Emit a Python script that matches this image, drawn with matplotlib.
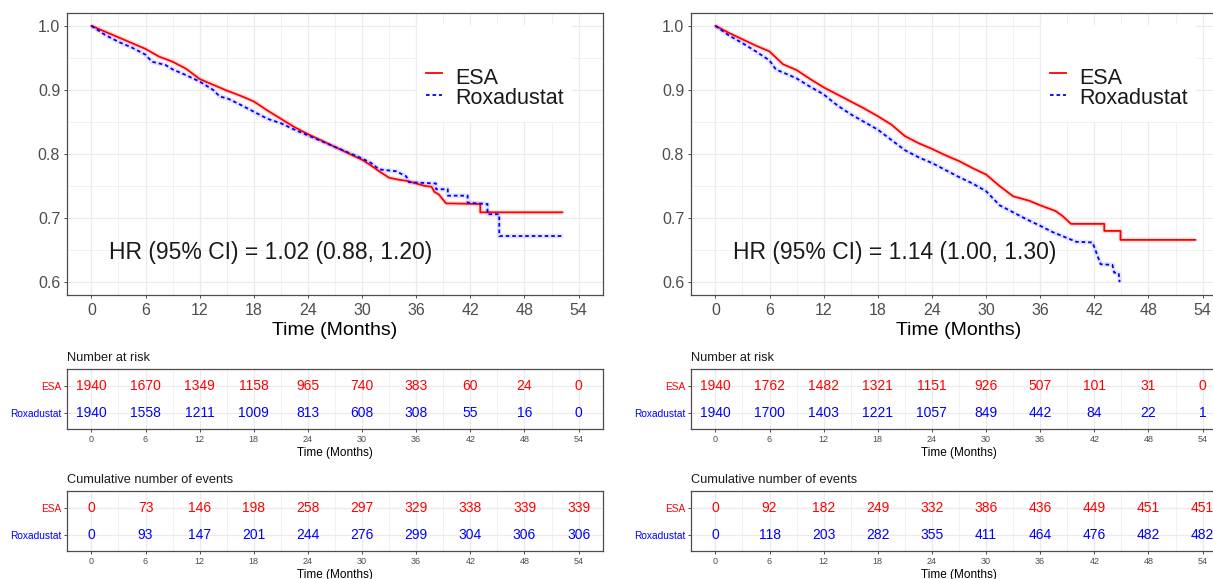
import matplotlib
matplotlib.use("Agg")
import matplotlib.pyplot as plt
from matplotlib.lines import Line2D
from matplotlib.patches import Rectangle
from matplotlib.ticker import MultipleLocator, FixedLocator, FormatStrFormatter

plt.rcParams["font.family"] = ["Liberation Sans", "DejaVu Sans"]

# ---------------- data ----------------
groups = ["ESA", "Roxadustat"]
time_breaks = [0, 6, 12, 18, 24, 30, 36, 42, 48, 54]

# Panel A: Kaplan-Meier estimates (months, survival probability)
a_esa_t = [0, 1.5, 3, 4.5, 6, 7.5, 9, 10.5, 12, 13.5, 15, 16.5, 18, 19.5, 21,
           22.5, 24, 25.5, 27, 28.5, 30, 31, 32, 33, 34, 35, 36, 37, 37.7, 38.0,
           38.5, 39.3, 43.1, 43.1, 52.2]
a_esa_s = [1.0, 0.991, 0.982, 0.973, 0.964, 0.952, 0.944, 0.933, 0.917, 0.908,
           0.899, 0.891, 0.882, 0.868, 0.855, 0.842, 0.831, 0.821, 0.811, 0.801,
           0.791, 0.782, 0.772, 0.763, 0.760, 0.758, 0.754, 0.750, 0.749, 0.741,
           0.737, 0.723, 0.722, 0.709, 0.709]
a_rox_t = [0, 1.5, 3, 4.5, 6, 6.7, 8.2, 9, 10.5, 12, 13.5, 14.2, 15.2, 16.5, 18,
           19.5, 21, 22.5, 24, 25.5, 27, 28.5, 30, 31, 31.9, 33.8, 34.9, 35.2,
           38.2, 38.2, 39.5, 39.5, 41.7, 41.7, 43.9, 43.9, 45.2, 45.2, 52.3]
a_rox_s = [1.0, 0.986, 0.975, 0.966, 0.955, 0.944, 0.939, 0.932, 0.923, 0.913,
           0.900, 0.890, 0.886, 0.877, 0.866, 0.855, 0.848, 0.838, 0.829, 0.820,
           0.811, 0.802, 0.793, 0.786, 0.776, 0.773, 0.765, 0.756, 0.754, 0.745,
           0.745, 0.735, 0.735, 0.724, 0.722, 0.706, 0.706, 0.672, 0.672]

# Panel B
b_esa_t = [0, 1.5, 3, 4.5, 6, 7.5, 9, 10.5, 12, 13.5, 15, 16.5, 18, 19.5, 21,
           22.5, 24, 25.5, 27, 28.5, 30, 31.5, 33, 34.8, 36, 37.7, 38.5, 39.4,
           43.1, 43.1, 44.9, 44.9, 53.2]
b_esa_s = [1.0, 0.989, 0.979, 0.969, 0.960, 0.940, 0.931, 0.917, 0.904, 0.893,
           0.882, 0.871, 0.859, 0.846, 0.828, 0.817, 0.808, 0.798, 0.789, 0.778,
           0.768, 0.750, 0.734, 0.727, 0.720, 0.711, 0.703, 0.691, 0.691, 0.680,
           0.680, 0.666, 0.666]
b_rox_t = [0, 1.5, 3, 4.5, 6, 6.7, 9, 10.5, 12, 13.5, 15, 16.5, 18, 19.5, 21,
           22.5, 24, 25.5, 27, 28.5, 30, 31.5, 33, 34.5, 36, 37.4, 38.8, 40,
           41.8, 42.7, 44.0, 44.2, 44.7, 44.8]
b_rox_s = [1.0, 0.985, 0.973, 0.960, 0.946, 0.932, 0.918, 0.905, 0.893, 0.876,
           0.862, 0.850, 0.838, 0.822, 0.806, 0.795, 0.786, 0.775, 0.764, 0.754,
           0.742, 0.720, 0.709, 0.698, 0.688, 0.678, 0.670, 0.663, 0.662, 0.628,
           0.627, 0.615, 0.614, 0.600]

a_hr_text = "HR (95% CI) = 1.02 (0.88, 1.20)"
b_hr_text = "HR (95% CI) = 1.14 (1.00, 1.30)"

# Number at risk / cumulative events at time_breaks
a_risk_esa = [1940, 1670, 1349, 1158, 965, 740, 383, 60, 24, 0]
a_risk_rox = [1940, 1558, 1211, 1009, 813, 608, 308, 55, 16, 0]
a_evt_esa = [0, 73, 146, 198, 258, 297, 329, 338, 339, 339]
a_evt_rox = [0, 93, 147, 201, 244, 276, 299, 304, 306, 306]

b_risk_esa = [1940, 1762, 1482, 1321, 1151, 926, 507, 101, 31, 0]
b_risk_rox = [1940, 1700, 1403, 1221, 1057, 849, 442, 84, 22, 1]
b_evt_esa = [0, 92, 182, 249, 332, 386, 436, 449, 451, 451]
b_evt_rox = [0, 118, 203, 282, 355, 411, 464, 476, 482, 482]

# ---------------- styling ----------------
RED = "#FF0000"
BLUE = "#0000FF"
GRID = "#EBEBEB"
BORDER = "#4D4D4D"
TICKTXT = "#4D4D4D"
XLIM = (-2.7, 56.7)

W, H = 1213, 579
fig = plt.figure(figsize=(W / 100, H / 100), dpi=100)


def px_axes(l, t, r, b):
    return fig.add_axes([l / W, 1 - b / H, (r - l) / W, (b - t) / H])


def style_frame(ax):
    for sp in ax.spines.values():
        sp.set_color(BORDER)
        sp.set_linewidth(0.9)
    ax.set_axisbelow(True)
    ax.grid(which="major", color=GRID, linewidth=0.9)
    ax.grid(which="minor", color=GRID, linewidth=0.5)
    ax.tick_params(which="minor", length=0)


def survival_panel(ax, esa_t, esa_s, rox_t, rox_s, hr_text):
    style_frame(ax)
    # light halo from the dense censoring marks
    ax.plot(esa_t, esa_s, color=RED, lw=3.5, alpha=0.12, solid_capstyle="butt")
    ax.plot(rox_t, rox_s, color=BLUE, lw=3.5, alpha=0.10, solid_capstyle="butt")
    ax.plot(esa_t, esa_s, color=RED, lw=1.3)
    ax.plot(rox_t, rox_s, color=BLUE, lw=1.3, dashes=(2.0, 1.6))
    ax.set_xlim(*XLIM)
    ax.set_ylim(0.58, 1.02)
    ax.xaxis.set_major_locator(FixedLocator(time_breaks))
    ax.xaxis.set_minor_locator(MultipleLocator(3))
    ax.yaxis.set_major_locator(MultipleLocator(0.1))
    ax.yaxis.set_minor_locator(MultipleLocator(0.05))
    ax.yaxis.set_major_formatter(FormatStrFormatter("%.1f"))
    ax.tick_params(which="major", length=2.4, width=0.7, color=BORDER,
                   labelsize=11.5, labelcolor=TICKTXT, pad=2.5)
    ax.tick_params(axis="x", which="major", pad=3.5)
    ax.set_xlabel("Time (Months)", fontsize=14, labelpad=2.5)
    ax.text(2.0, 0.636, hr_text, fontsize=16.5, ha="left", va="baseline",
            color="#1A1A1A")
    # legend
    ax.add_patch(Rectangle((0.653, 0.613), 0.289, 0.344, transform=ax.transAxes,
                           facecolor="white", edgecolor="none", zorder=3))
    ax.add_line(Line2D([0.670, 0.700], [0.786, 0.786], transform=ax.transAxes,
                       color=RED, lw=1.3, zorder=4))
    ax.add_line(Line2D([0.670, 0.700], [0.709, 0.709], transform=ax.transAxes,
                       color=BLUE, lw=1.3, dashes=(2.0, 1.6), zorder=4))
    ax.text(0.724, 0.748, groups[0], transform=ax.transAxes, fontsize=15.5,
            va="baseline", ha="left", zorder=4, color="#1A1A1A")
    ax.text(0.724, 0.676, groups[1], transform=ax.transAxes, fontsize=15.5,
            va="baseline", ha="left", zorder=4, color="#1A1A1A")


def table_panel(ax, title, esa_vals, rox_vals):
    style_frame(ax)
    ax.set_xlim(*XLIM)
    ax.set_ylim(0.41, 2.62)
    ax.xaxis.set_major_locator(FixedLocator(time_breaks))
    ax.xaxis.set_minor_locator(MultipleLocator(3))
    ax.set_yticks([2, 1])
    ax.set_yticklabels(groups)
    for lab, col in zip(ax.get_yticklabels(), [RED, BLUE]):
        lab.set_color(col)
    ax.tick_params(axis="y", which="major", length=2.4, width=0.7, color=BORDER,
                   labelsize=7.3, pad=1.5)
    ax.tick_params(axis="x", which="major", length=2.4, width=0.7, color=BORDER,
                   labelsize=6.5, labelcolor=TICKTXT, pad=2.2)
    ax.set_xlabel("Time (Months)", fontsize=8.5, labelpad=2.2)
    ax.set_title(title, loc="left", fontsize=9.2, pad=6, color="#1A1A1A")
    for t, v in zip(time_breaks, esa_vals):
        ax.text(t, 2, str(v), color=RED, fontsize=10, ha="center", va="center")
    for t, v in zip(time_breaks, rox_vals):
        ax.text(t, 1, str(v), color=BLUE, fontsize=10, ha="center", va="center")


# Panel A
ax1 = px_axes(67, 13, 603, 295)
survival_panel(ax1, a_esa_t, a_esa_s, a_rox_t, a_rox_s, a_hr_text)
t1 = px_axes(67, 369, 603, 429)
table_panel(t1, "Number at risk", a_risk_esa, a_risk_rox)
t2 = px_axes(67, 491, 603, 551)
table_panel(t2, "Cumulative number of events", a_evt_esa, a_evt_rox)

# Panel B
ax2 = px_axes(691, 13, 1227, 295)
survival_panel(ax2, b_esa_t, b_esa_s, b_rox_t, b_rox_s, b_hr_text)
t3 = px_axes(691, 369, 1227, 429)
table_panel(t3, "Number at risk", b_risk_esa, b_risk_rox)
t4 = px_axes(691, 491, 1227, 551)
table_panel(t4, "Cumulative number of events", b_evt_esa, b_evt_rox)

fig.savefig("out.png", dpi=100, facecolor="white")
